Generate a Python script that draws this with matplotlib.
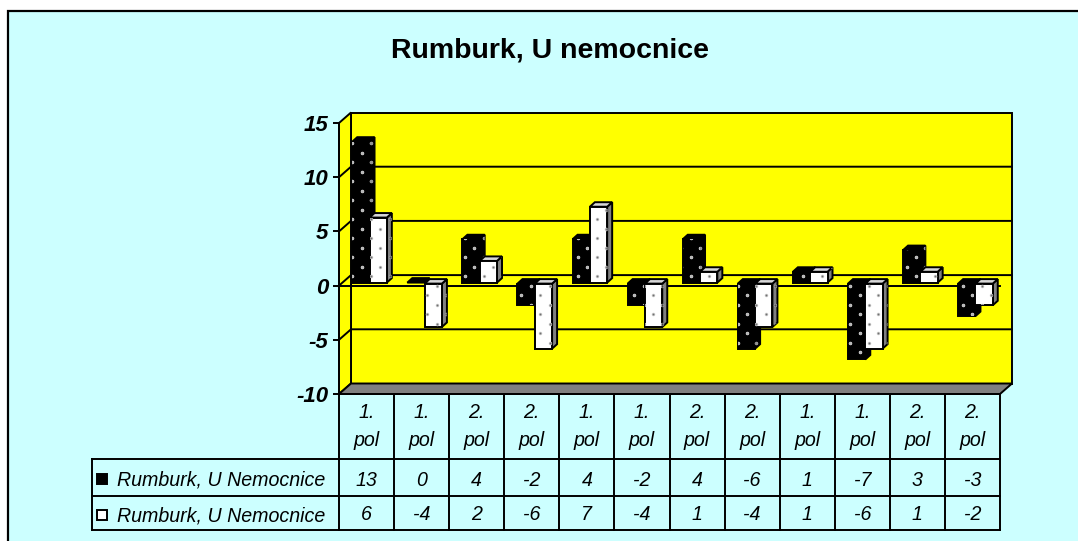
#!/bin/python3
import numpy as np
import matplotlib
matplotlib.use("Agg")
import matplotlib.pyplot as plt
from matplotlib.patches import Polygon, Rectangle

title = "Rumburk, U nemocnice"
seriesName = "Rumburk, U Nemocnice"
halfYear = ["1.", "1.", "2.", "2.", "1.", "1.", "2.", "2.", "1.", "1.", "2.", "2."]
black = [13, 0, 4, -2, 4, -2, 4, -6, 1, -7, 3, -3]
white = [6, -4, 2, -6, 7, -4, 1, -4, 1, -6, 1, -2]
yTicks = [-10, -5, 0, 5, 10, 15]

plt.rcParams["font.family"] = ["Liberation Sans", "DejaVu Sans"]

W, H = 1078, 541
LINE = 1.4
CYAN = "#CCFFFF"
YELLOW = "#FFFF00"
GRAY = "#808080"
TABLEFONT = 14.1

# front plane of the 3d box, in pixels
L, R, T, B = 339.0, 1000.0, 123.0, 394.0
UX = (R - L) / 12.
UY = (B - T) / 25.
# depth of the box and of the bars, in data units
DEPTHX = 12. / UX
DEPTHY = 10.5 / UY
BARX = 3.0 / UX
BARY = 3.0 / UY
SIDEX = 5. / UX
SIDEY = 4.5 / UY
BARW = 17.3 / UX

def yFromPx(py):
    return 15. - (py - T) / UY

def xFromPx(px):
    return (px - L) / UX

def face(axis, pts, fc, z, lw = LINE):
    p = Polygon(pts, closed = True, facecolor = fc, edgecolor = "black", linewidth = lw,
                zorder = z, clip_on = False, joinstyle = "miter")
    axis.add_patch(p)
    return p

# dots of the fill pattern, same lattice for all bars
colsX = xFromPx(361.5 + 9.4 * np.arange(-1, 70))
lx, ly = [], []
for k, cx in enumerate(colsX):
    for j in range(-2, 16):
        lx.append(cx)
        ly.append(yFromPx(152.7 + 19. * j + 9.5 * ((k + 1) % 2)))
lx = np.array(lx)
ly = np.array(ly)

def dots(axis, patch, z, fc, ec):
    sc = axis.scatter(lx, ly, s = 4.0, c = fc, edgecolors = ec, linewidths = 0.5, zorder = z)
    sc.set_clip_path(patch)

def drawBar(axis, x0, val, colFront, colSide, colTop, dotFc, dotEc, sideFc, sideEc, z):
    x1 = x0 + BARW
    zero = BARY
    top = max(val, 0) + zero
    bot = min(val, 0) + zero
    if val < 0:
        top -= 1. / UY
        bot -= 1. / UY
    side = face(axis, [(x1, top), (x1 + SIDEX, top + SIDEY), (x1 + SIDEX, bot + SIDEY), (x1, bot)], colSide, z)
    face(axis, [(x0, top), (x0 + SIDEX, top + SIDEY), (x1 + SIDEX, top + SIDEY), (x1, top)], colTop, z)
    if val != 0:
        front = face(axis, [(x0, top), (x1, top), (x1, bot), (x0, bot)], colFront, z)
        dots(axis, front, z, dotFc, dotEc)
        dots(axis, side, z, sideFc, sideEc)

def main():

    fig = plt.figure(figsize = (W / 100., H / 100.), dpi = 100, facecolor = "white")

    # full figure layer in pixels for the chart frame
    bg = fig.add_axes([0, 0, 1, 1], zorder = 0)
    bg.set_xlim(0, W)
    bg.set_ylim(H, 0)
    bg.axis("off")
    bg.add_patch(Rectangle((8, 11), W + 10, H + 10, facecolor = CYAN, edgecolor = "black", linewidth = 1.6))
    bg.text(550, 51, title, fontsize = 20.5, fontweight = "bold", ha = "center", va = "center")

    ax = fig.add_axes([L / W, 1 - B / H, (R - L) / W, (B - T) / H], zorder = 1)
    ax.set_xlim(0, 12)
    ax.set_ylim(-10, 15)
    ax.patch.set_visible(False)
    for s in ["top", "right", "bottom"]:
        ax.spines[s].set_visible(False)
    ax.spines["left"].set_linewidth(LINE)
    ax.spines["left"].set_zorder(3)
    ax.set_xticks([])
    ax.set_yticks(yTicks)
    ax.set_yticklabels([str(v) for v in yTicks], fontsize = 16, fontweight = "bold", fontstyle = "italic")
    ax.tick_params(axis = "y", length = 4.5, width = LINE, pad = 3)

    # walls and floor
    face(ax, [(DEPTHX, -10 + DEPTHY), (12 + DEPTHX, -10 + DEPTHY), (12 + DEPTHX, 15 + DEPTHY), (DEPTHX, 15 + DEPTHY)], YELLOW, 1)
    face(ax, [(0, -10), (DEPTHX, -10 + DEPTHY), (DEPTHX, 15 + DEPTHY), (0, 15)], YELLOW, 1)
    face(ax, [(0, -10), (12, -10), (12 + DEPTHX, -10 + DEPTHY), (DEPTHX, -10 + DEPTHY)], GRAY, 1)

    # gridlines on the back wall, running round the left wall
    for v in yTicks[1:-1]:
        ax.plot([0, DEPTHX, 12 + DEPTHX], [v, v + DEPTHY, v + DEPTHY], color = "black", lw = LINE, zorder = 1.5, clip_on = False)
    # front axis line at zero
    ax.plot([0, 12], [0, 0], color = "black", lw = LINE, zorder = 2, clip_on = False)

    for i in range(len(black)):
        x0 = i + 0.5 + BARX - BARW
        z = 4 + i
        drawBar(ax, x0, black[i], "black", "black", "black", "#B4B4B4", "#E0E0E0", "#909090", "#B0B0B0", z)
        drawBar(ax, x0 + BARW, white[i], "white", GRAY, "#D8D8D8", "#707070", "#D0D0D0", "#505050", "#A0A0A0", z + 0.5)

    # data table under the chart
    rowTop = yFromPx(394)
    rowHead = yFromPx(459)
    row1 = yFromPx(496)
    row2 = yFromPx(530)
    tableLeft = xFromPx(92)
    for i in range(13):
        ax.plot([i, i], [rowTop, row2], color = "black", lw = LINE, clip_on = False, zorder = 2)
    for yy in [rowHead, row1, row2]:
        ax.plot([tableLeft, 12], [yy, yy], color = "black", lw = LINE, clip_on = False, zorder = 2)
    ax.plot([tableLeft, tableLeft], [rowHead, row2], color = "black", lw = LINE, clip_on = False, zorder = 2)
    ax.plot([0, 12], [rowTop, rowTop], color = "black", lw = LINE, clip_on = False, zorder = 2)

    for i in range(12):
        ax.text(i + 0.5, yFromPx(413), halfYear[i], fontsize = TABLEFONT, fontstyle = "italic", ha = "center", va = "center")
        ax.text(i + 0.5, yFromPx(440), "pol", fontsize = TABLEFONT, fontstyle = "italic", ha = "center", va = "center")
        ax.text(i + 0.5, yFromPx(480), str(black[i]), fontsize = TABLEFONT, fontstyle = "italic", ha = "center", va = "center")
        ax.text(i + 0.5, yFromPx(515), str(white[i]), fontsize = TABLEFONT, fontstyle = "italic", ha = "center", va = "center")

    # legend keys and series names
    for py, fc in [(479, "black"), (515, "white")]:
        bg.add_patch(Rectangle((97, py - 5), 10, 10, facecolor = fc, edgecolor = "black", linewidth = LINE))
        bg.text(117, py + 1, seriesName, fontsize = TABLEFONT, fontstyle = "italic", ha = "left", va = "center")

    fig.savefig("out.png", dpi = 100, facecolor = fig.get_facecolor())

if __name__ == "__main__":
    main()
